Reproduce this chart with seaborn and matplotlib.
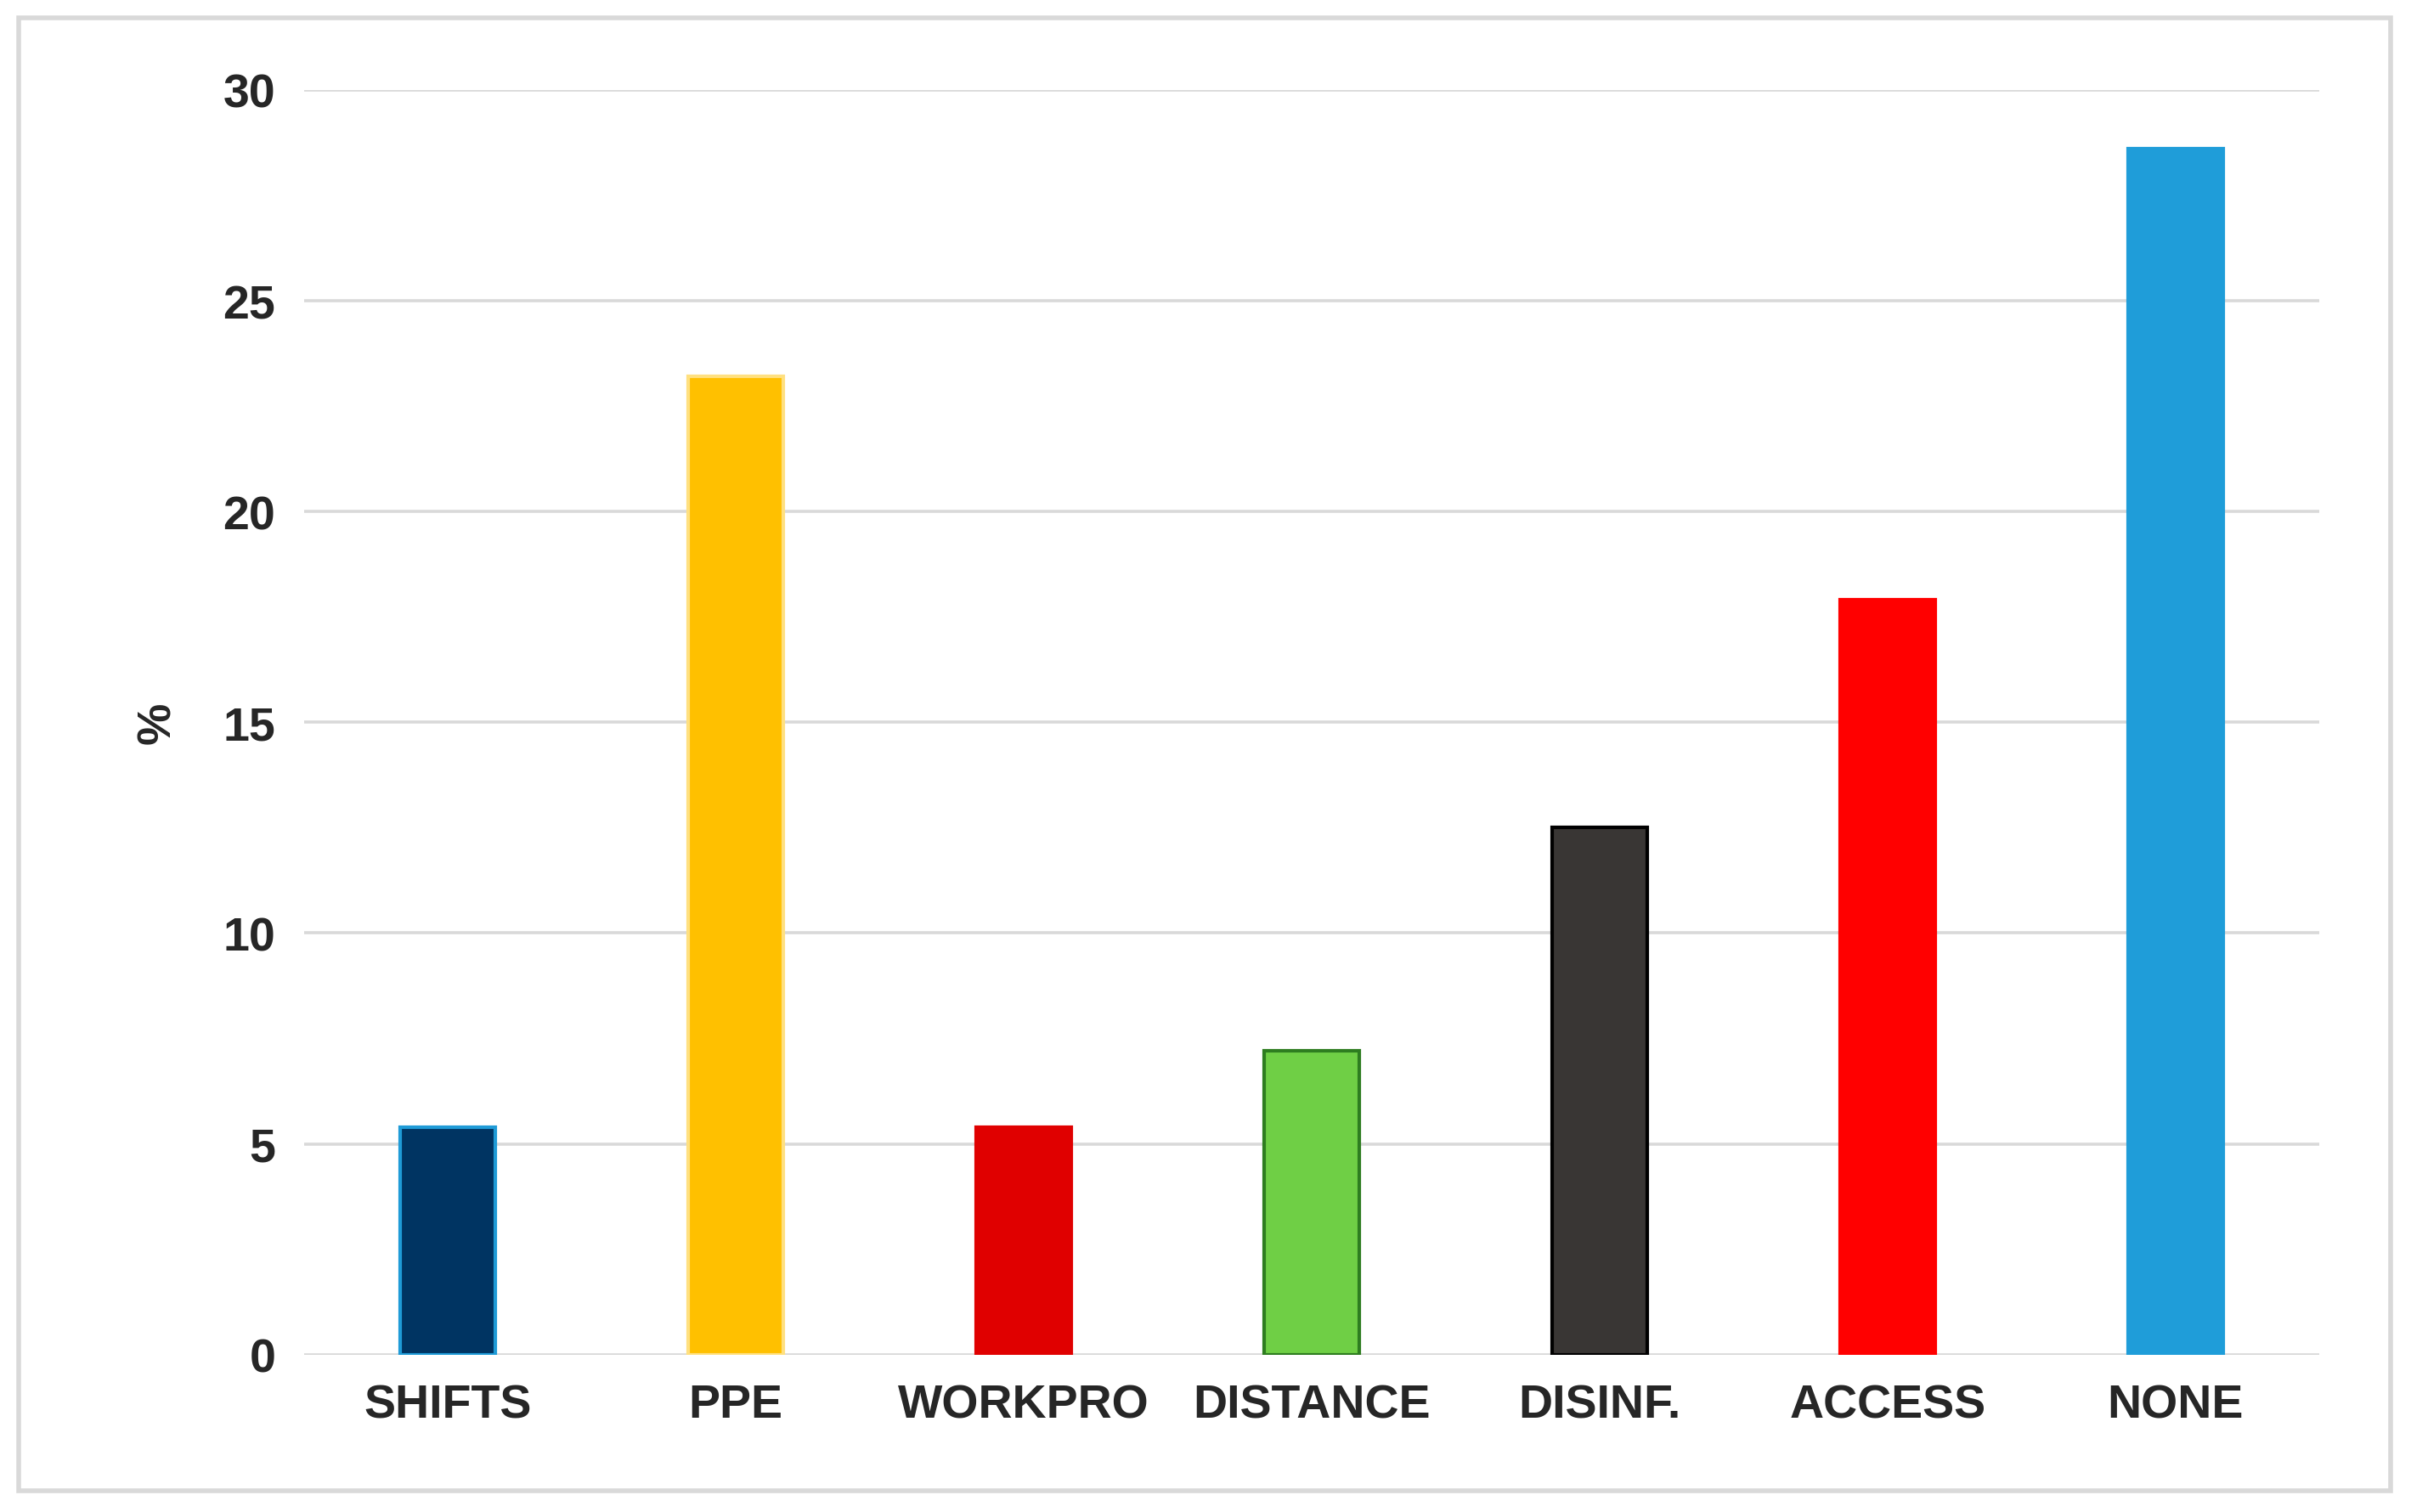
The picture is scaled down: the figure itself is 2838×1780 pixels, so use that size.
import matplotlib
matplotlib.use("Agg")
import matplotlib.pyplot as plt
import seaborn as sns
import pandas as pd
from matplotlib.patches import Rectangle

categories = ["SHIFTS", "PPE", "WORKPRO", "DISTANCE", "DISINF.", "ACCESS", "NONE"]
values = [5.4, 23.2, 5.4, 7.2, 12.5, 17.9, 28.6]
fill_colors = ["#003462", "#ffc000", "#e00000", "#6fcf45", "#393634", "#ff0000", "#1f9dd9"]
edge_colors = ["#1f9bd7", "#ffe080", "#e00000", "#2e7d20", "#000000", "#ff0000", "#1f9dd9"]

sns.set_style("white")
plt.rcParams['font.family'] = ['Liberation Sans', 'DejaVu Sans']

df = pd.DataFrame({"cat": categories, "val": values})

fig = plt.figure(figsize=(14.19, 8.905), dpi=200)
ax = fig.add_axes([0.126, 0.104, 0.836, 0.836])
sns.barplot(data=df, x="cat", y="val", hue="cat", palette=fill_colors,
            width=0.33, legend=False, ax=ax, saturation=1, zorder=3)
for patch, ec in zip(ax.patches, edge_colors):
    patch.set_edgecolor(ec)
    patch.set_linewidth(1.5)

ax.set_xlim(-0.5, 6.5)
ax.set_ylim(0, 30)
ax.set_yticks(range(0, 31, 5))
ax.yaxis.grid(True, color="#d9d9d9", linewidth=1.3, zorder=0)
ax.set_axisbelow(True)
for s in ax.spines.values():
    s.set_visible(False)
ax.tick_params(axis="both", length=0, labelsize=20, pad=12)
for lbl in ax.get_xticklabels() + ax.get_yticklabels():
    lbl.set_fontweight("bold")
ax.set_xlabel("")
ax.set_ylabel("%", fontsize=20, fontweight="bold", labelpad=18)

fig.patches.append(Rectangle((12 / 1568, 1 - 970 / 984), (1555 - 12) / 1568, (970 - 12) / 984,
                             transform=fig.transFigure, fill=False,
                             edgecolor="#d9d9d9", linewidth=2))

fig.savefig("out.png", dpi=200)
